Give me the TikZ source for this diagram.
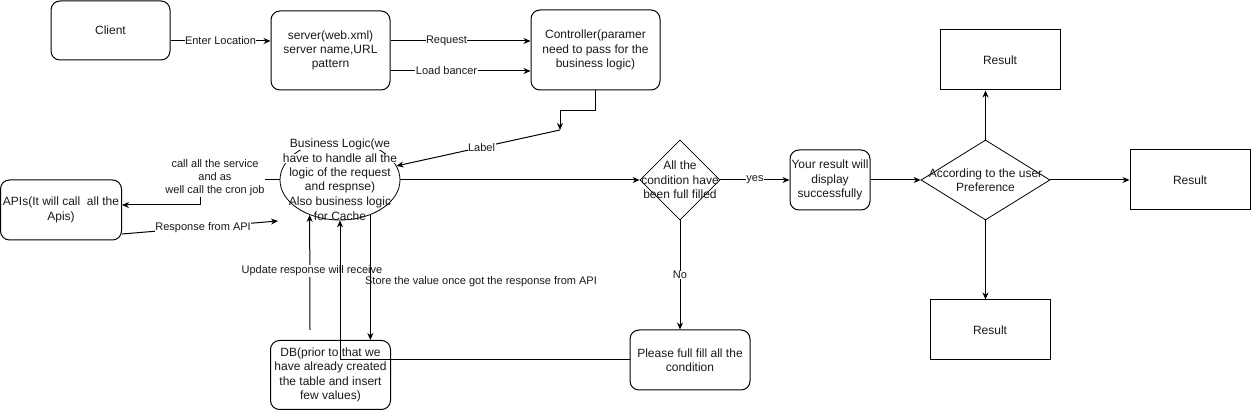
\documentclass[tikz,border=0pt]{standalone}
\usepackage{fontspec}
\setmainfont{Liberation Sans}
\usetikzlibrary{arrows.meta,shapes.geometric}
\begin{document}
\begin{tikzpicture}[x=1pt,y=-1pt,
  every node/.style={text=black!90},
  main/.style={font=\fontsize{12}{14.4}\selectfont, align=center},
  lab/.style={font=\fontsize{11}{13}\selectfont, align=center, fill=white, inner sep=0.5pt},
  rbox/.style={main, draw, rounded corners=9pt, line width=1pt, inner sep=1pt},
  sbox/.style={main, draw, line width=1pt},
  dia/.style={draw, diamond, line width=0.8pt, inner sep=0pt},
  arr/.style={line width=1pt, -{Stealth[length=7pt,width=6pt]}},
  ln/.style={line width=1pt}]
\useasboundingbox (0,0) rectangle (1251,411);

% boxes
\node[rbox, minimum width=119, minimum height=59] (client) at (110.5,30.5) {Client};
\node[rbox, minimum width=119, minimum height=79] (server) at (330.5,50.5) {server(web.xml)\\server name,URL\\pattern};
\node[rbox, minimum width=129, minimum height=80] (ctrl) at (595.5,50) {Controller(paramer\\need to pass for the\\business logic)};
\node[rbox, minimum width=121, minimum height=60] (apis) at (61,210) {APIs(It will call\ \ all the\\Apis)};
\node[rbox, minimum width=120, minimum height=69] (db) at (330.5,375) {DB(prior to that we\\have already created\\the table and insert\\few values)};
\node[rbox, minimum width=120, minimum height=60] (please) at (690,360) {Please full fill all the\\condition};
\node[rbox, minimum width=80, minimum height=60] (yr) at (830,180) {Your result will\\display\\successfully};
\node[sbox, minimum width=120, minimum height=60] (r1) at (1000,60) {Result};
\node[sbox, minimum width=120, minimum height=60] (r2) at (1190,180) {Result};
\node[sbox, minimum width=120, minimum height=60] (r3) at (990,330) {Result};

% ellipse with text
\node[draw, ellipse, line width=0.8pt, minimum width=120, minimum height=80, inner sep=0] (bl) at (340,180) {};
\node[main, fill=white, inner sep=0.3pt] (bt1) at (340,144) {Business Logic(we};
\node[main, fill=white, inner sep=0.3pt] (bt2) at (340,158.5) {have to handle all the};
\node[main, fill=white, inner sep=0.3pt] (bt3) at (340,173) {logic of the request};
\node[main, fill=white, inner sep=0.3pt] (bt4) at (340,187.5) {and respnse)};
\node[main, inner sep=0.3pt] (bt5) at (340,202) {Also business logic};
\node[main, inner sep=0.3pt] (bt6) at (340,216.5) {for Cache};

% diamonds
\node[dia, minimum width=80, minimum height=80] (d1) at (680,180) {};
\node[main] (d1t) at (680,180) {All the\\condition have\\been full filled};
\node[dia, minimum width=129, minimum height=80] (d2) at (985.5,180) {};
\node[main] (d2t) at (985.5,180) {According to the user\\Preference};

% connectors
\draw[arr] (client.east |- 0,41) -- node[lab] {Enter Location} (server.west |- 0,41);
\draw[arr] (server.east |- 0,41) -- node[lab, pos=0.4] {Request} (ctrl.west |- 0,41);
\draw[arr] (server.east |- 0,71) -- node[lab, pos=0.4] {Load bancer} (ctrl.west |- 0,71);

\coordinate (lp) at (560,130);
\draw[arr] (ctrl.south) -- ++(0,20) -| (lp);
\draw[arr] (lp) -- node[lab, pos=0.48] {Label} (bl.14);

\draw[arr] (bl.west) -- (200,180) -- (200,205) -- (apis.east |- 0,205);
\node[lab] (calllab) at (215,178) {call all the service\\and as\\well call the cron job};

\coordinate (ra) at (278,221);
\draw[arr] (apis.east |- 0,234) -- node[lab, pos=0.52] {Response from API} (ra);

\coordinate (ur) at (310,330);
\draw[arr] (ur) -- (bl.229);
\node[lab] (urlab) at (312,271) {Update response will receive};

\draw[arr] (please.west) -| (bl.south);

\draw[arr] (bl.311) -- (bl.311 |- db.north);
\node[lab, fill=none] (stlab) at (481,282) {Store the value once got the response from API};

\draw[arr] (bl.east) -- (d1.west);
\draw[arr] (d1.east) -- node[lab] {yes} (yr.west);
\draw[arr] (d1.south) -- node[lab] {No} (d1.south |- please.north);
\draw[arr] (yr.east) -- (d2.west);
\draw[arr] (d2.north) -- (d2.north |- r1.south);
\draw[arr] (d2.east) -- (r2.west);
\draw[arr] (d2.south) -- (d2.south |- r3.north);
\end{tikzpicture}
\end{document}
